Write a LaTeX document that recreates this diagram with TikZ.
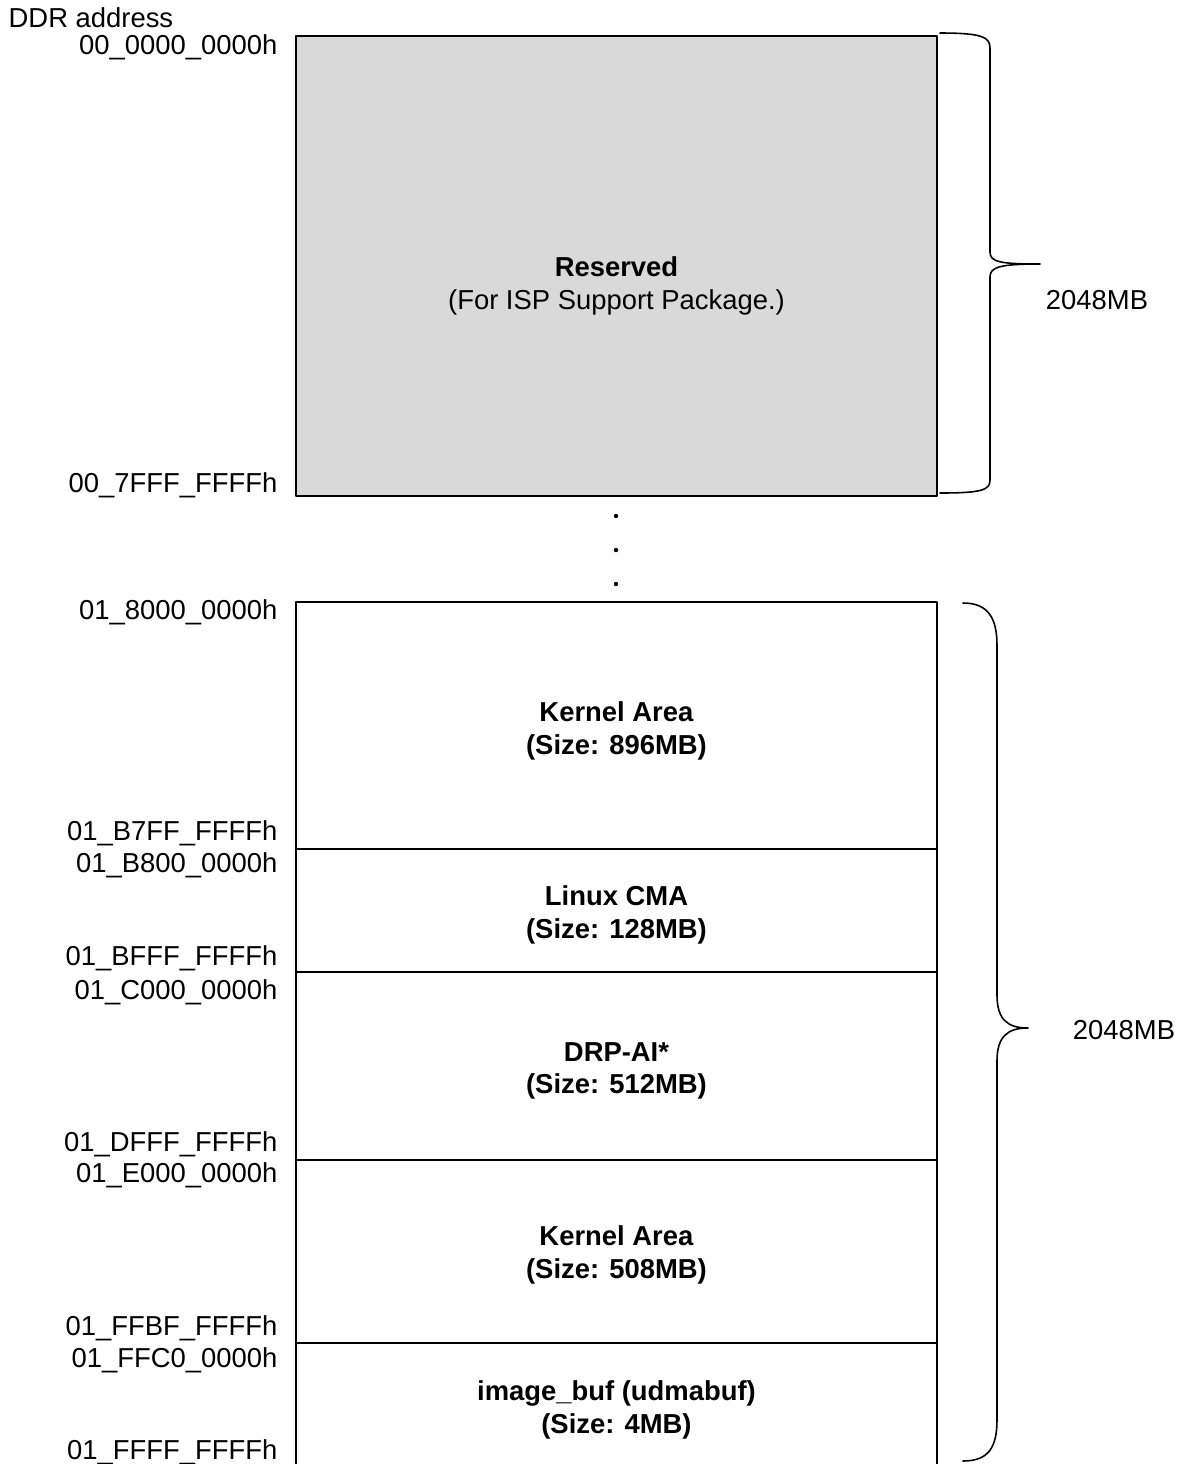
\documentclass[tikz,border=0pt]{standalone}
\usepackage{fontspec}
\setmainfont{Liberation Sans}
\definecolor{resgray}{HTML}{D9D9D9}
\begin{document}
\begin{tikzpicture}[x=0.1mm,y=-0.1mm,font=\fontsize{7.8}{9.2}\selectfont,line join=round,line cap=round]
	\def\xl{296} \def\xr{937} \def\xm{616.5}
	\tikzset{addr/.style={anchor=east,inner sep=0pt},
		area/.style={align=center,inner sep=0pt},
		edge/.style={line width=0.6pt},
		sep/.style={line width=0.45pt},
		brace/.style={line width=0.45pt}}
	\useasboundingbox (0,0) rectangle (1179,1464);
	\clip (0,0) rectangle (1179,1464);
	%\draw[gray!50,dashed] (0,0) grid[step=100] (1179,1464);
	\node[anchor=west,inner sep=0pt] (title) at (8,18) {DDR address};
	% upper block
	\filldraw[fill=resgray,edge] (\xl,36) rectangle (\xr,496);
	\node[area] (res) at (\xm,286) {\textbf{Reserved}\\(For ISP Support Package.)};
	\node[addr] (a0) at (278,47) {00\_0000\_0000h};
	\node[addr] (a1) at (278,485) {00\_7FFF\_FFFFh};
	\foreach \y in {516,550,584} \fill (616,\y) circle (2.2);
	% lower block
	\draw[edge] (\xl,1480)--(\xl,602)--(\xr,602)--(\xr,1480);
	\foreach \y in {849,972,1160,1343} \draw[sep] (\xl,\y)--(\xr,\y);
	\node[area] (k1) at (\xm,731) {\textbf{Kernel Area}\\\textbf{(Size: 896MB)}};
	\node[area] (cma) at (\xm,915) {\textbf{Linux CMA}\\\textbf{(Size: 128MB)}};
	\node[area] (drp) at (\xm,1071) {\textbf{DRP-AI*}\\\textbf{(Size: 512MB)}};
	\node[area] (k2) at (\xm,1255) {\textbf{Kernel Area}\\\textbf{(Size: 508MB)}};
	\node[area] (ibuf) at (\xm,1410) {\textbf{image\_buf (udmabuf)}\\\textbf{(Size: 4MB)}};
	\node[addr] (a2) at (278,612) {01\_8000\_0000h};
	\node[addr] (a3) at (278,833) {01\_B7FF\_FFFFh};
	\node[addr] (a4) at (278,865) {01\_B800\_0000h};
	\node[addr] (a5) at (278,958) {01\_BFFF\_FFFFh};
	\node[addr] (a6) at (278,992) {01\_C000\_0000h};
	\node[addr] (a7) at (278,1144) {01\_DFFF\_FFFFh};
	\node[addr] (a8) at (278,1175) {01\_E000\_0000h};
	\node[addr] (a9) at (278,1328) {01\_FFBF\_FFFFh};
	\node[addr] (a10) at (278,1360) {01\_FFC0\_0000h};
	\node[addr] (a11) at (278,1452) {01\_FFFF\_FFFFh};
	% braces
	\draw[brace] (940,33) .. controls (982,33) and (990,37) .. (990,48) -- (990,252)
		.. controls (990,262) and (1000,264) .. (1040,264)
		.. controls (1000,264) and (990,267) .. (990,277) -- (990,480)
		.. controls (990,490) and (982,493) .. (940,493);
	\node (s1) at (1097,300) {2048MB};
	\draw[brace] (963,603) .. controls (988,603) and (997,618) .. (997,645) -- (997,995)
		.. controls (997,1020) and (1008,1028) .. (1028,1028)
		.. controls (1008,1028) and (997,1036) .. (997,1061) -- (997,1420)
		.. controls (997,1448) and (988,1461) .. (963,1461);
	\node (s2) at (1124,1030) {2048MB};
\end{tikzpicture}
\end{document}
